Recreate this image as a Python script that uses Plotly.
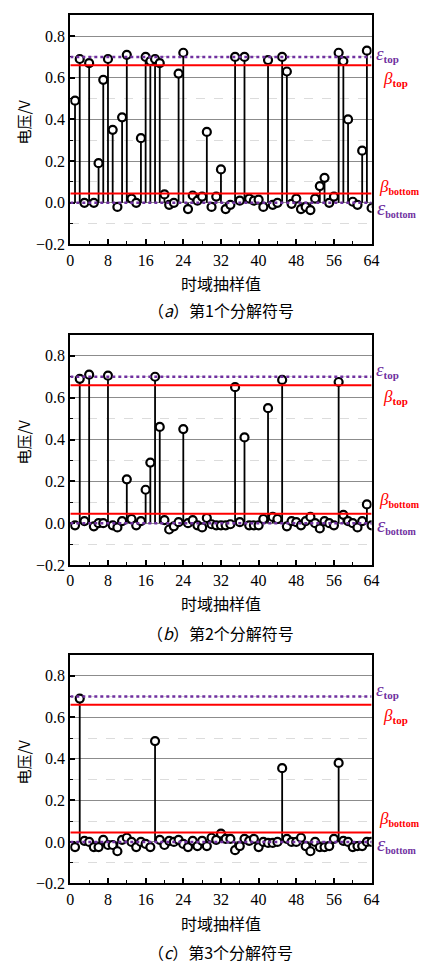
import plotly.graph_objects as go

# ---------------- data ----------------
samples = list(range(1, 65))

volt_a = [0.49, 0.69, 0.0, 0.67, 0.0, 0.19, 0.59, 0.69, 0.35, -0.02,
          0.41, 0.71, 0.02, 0.0, 0.31, 0.70, 0.68, 0.69, 0.67, 0.04,
          -0.01, 0.0, 0.62, 0.72, -0.03, 0.035, 0.01, 0.03, 0.34, -0.02,
          0.03, 0.16, -0.03, -0.01, 0.70, 0.01, 0.70, 0.02, 0.01, 0.015,
          -0.02, 0.685, -0.01, 0.0, 0.70, 0.63, -0.005, 0.02, -0.03, -0.02,
          -0.035, 0.02, 0.08, 0.12, 0.0, 0.03, 0.72, 0.68, 0.40, 0.005,
          -0.01, 0.25, 0.73, -0.025]

volt_b = [-0.01, 0.69, 0.01, 0.71, -0.015, 0.0, 0.0, 0.705, -0.01, -0.02,
          0.01, 0.21, 0.02, -0.01, 0.01, 0.16, 0.29, 0.70, 0.46, 0.015,
          -0.03, -0.015, 0.005, 0.45, 0.0, 0.015, -0.01, -0.02, 0.025, -0.005,
          -0.01, -0.01, -0.01, -0.005, 0.65, 0.005, 0.41, -0.01, -0.01, -0.01,
          0.02, 0.55, 0.03, 0.02, 0.685, -0.015, 0.01, 0.005, -0.01, 0.01,
          0.03, 0.0, -0.025, 0.01, 0.0, -0.01, 0.675, 0.04, 0.01, 0.0,
          -0.02, 0.01, 0.09, -0.01]

volt_c = [-0.025, 0.69, 0.005, 0.0, -0.025, -0.025, 0.01, -0.015, -0.015, -0.045,
          0.01, 0.02, 0.0, -0.025, 0.0, -0.01, -0.025, 0.485, 0.01, -0.015,
          0.005, 0.0, 0.01, -0.01, -0.025, 0.005, -0.02, 0.005, -0.02, 0.02,
          0.01, 0.04, 0.015, 0.015, -0.04, -0.02, 0.015, 0.005, 0.015, -0.025,
          0.0, -0.005, -0.005, 0.0, 0.355, 0.015, 0.0, 0.0, 0.02, -0.02,
          -0.045, 0.0, -0.025, -0.025, -0.02, 0.015, 0.38, 0.005, 0.0, -0.025,
          -0.02, -0.02, 0.0, 0.0]

eps_top = 0.70
beta_top = 0.66
beta_bottom = 0.045
eps_bottom = 0.0

x_ticks = [0, 8, 16, 24, 32, 40, 48, 56, 64]
y_ticks = [-0.2, 0.0, 0.2, 0.4, 0.6, 0.8]
x_title = "时域抽样值"
y_title = "电压/V"
captions = ["（<i>a</i>）第1个分解符号", "（<i>b</i>）第2个分解符号", "（<i>c</i>）第3个分解符号"]

# ---------------- layout constants ----------------
W, H = 427, 964
PURPLE = "#7030A0"
RED = "#FF0000"
SERIF = "Liberation Serif, Times New Roman"
CJK = "Noto Sans CJK SC"

def py(px):
    return 1 - px / H

def sym_label(glyph, sub, gsize, ssize):
    return (f"<span style='font-size:{gsize}px'><i>{glyph}</i></span>"
            f"<sub><span style='font-size:{ssize}px'><b>{sub}</b></span></sub>")

x_dom = [60 / W, 370 / W]
panels = [
    dict(data=volt_a, top=7.3, bot=238.7, xt=278, cap=305, yt=115,
         lab=dict(et=0.715, bt=0.595, bb=0.075, eb=-0.025)),
    dict(data=volt_b, top=330, bot=562.3, xt=601, cap=631, yt=438,
         lab=dict(et=0.73, bt=0.605, bb=0.11, eb=-0.01)),
    dict(data=volt_c, top=653, bot=883.7, xt=924, cap=953, yt=761,
         lab=dict(et=0.73, bt=0.605, bb=0.11, eb=-0.01)),
]

fig = go.Figure()
annotations = []
shapes = []

for i, p in enumerate(panels):
    k = "" if i == 0 else str(i + 1)
    xa, ya = "x" + k, "y" + k
    vals = p["data"]
    # stems
    sx, sy = [], []
    for n, v in zip(samples, vals):
        sx += [n, n, None]
        sy += [0, v, None]
    fig.add_trace(go.Scatter(x=sx, y=sy, mode="lines", xaxis=xa, yaxis=ya,
                             line=dict(color="black", width=1.8),
                             showlegend=False, hoverinfo="skip"))
    # markers
    fig.add_trace(go.Scatter(x=samples, y=vals, mode="markers", xaxis=xa, yaxis=ya,
                             marker=dict(symbol="circle", size=8, color="white",
                                         line=dict(color="black", width=2.2)),
                             showlegend=False))
    # threshold lines
    for val, col, dash, w in [(beta_top, RED, "solid", 2), (beta_bottom, RED, "solid", 2),
                              (eps_top, PURPLE, "dot", 2.5), (eps_bottom, PURPLE, "dot", 2.5)]:
        shapes.append(dict(type="line", xref=xa, yref=ya, x0=0, x1=64, y0=val, y1=val,
                           line=dict(color=col, width=w, dash=dash), layer="above"))

    dom = [py(p["bot"]), py(p["top"])]
    fig.layout["xaxis" + k] = dict(
        domain=x_dom, range=[0, 64], anchor=ya, tickvals=x_ticks,
        ticks="inside", ticklen=5, tickwidth=1.5, tickcolor="black",
        minor=dict(dtick=4, tick0=0, ticks="inside", ticklen=3, tickwidth=1.2, tickcolor="black"),
        showline=True, linecolor="black", linewidth=2, mirror=True,
        showgrid=False, zeroline=False,
        tickfont=dict(family=SERIF, size=16, color="black"))
    fig.layout["yaxis" + k] = dict(
        domain=dom, range=[-0.2, 0.9], anchor=xa, tickvals=y_ticks, tickformat=".1f",
        ticks="inside", ticklen=5, tickwidth=1.5, tickcolor="black",
        minor=dict(dtick=0.1, tick0=0, ticks="inside", ticklen=3, tickwidth=1.2,
                   tickcolor="black", showgrid=True, gridcolor="#dcdcdc",
                   gridwidth=1, griddash="dash"),
        showline=True, linecolor="black", linewidth=2, mirror=True,
        showgrid=True, gridcolor="#8c8c8c", gridwidth=1, zeroline=False,
        tickfont=dict(family=SERIF, size=16, color="black"))

    # axis titles / caption
    annotations.append(dict(xref="paper", yref="paper", x=(60 + 370) / 2 / W, y=py(p["xt"]),
                            text=x_title, showarrow=False, xanchor="center", yanchor="middle",
                            font=dict(family=CJK, size=16, color="black")))
    annotations.append(dict(xref="paper", yref="paper", x=(60 + 370) / 2 / W, y=py(p["cap"]),
                            text=captions[i], showarrow=False, xanchor="center", yanchor="middle",
                            font=dict(family=CJK, size=16, color="black")))
    annotations.append(dict(xref="paper", yref="paper", x=12 / W, y=py(p["yt"]),
                            text=y_title, showarrow=False, textangle=-90,
                            xanchor="center", yanchor="middle",
                            font=dict(family=CJK, size=15, color="black")))
    # threshold labels
    lab = p["lab"]
    annotations.append(dict(xref="paper", yref=ya, x=372 / W, y=lab["et"],
                            text=sym_label("ε", "top", 19, 11), showarrow=False,
                            xanchor="left", yanchor="middle",
                            font=dict(family=SERIF, size=14, color=PURPLE)))
    annotations.append(dict(xref="paper", yref=ya, x=380 / W, y=lab["bt"],
                            text=sym_label("β", "top", 17, 11), showarrow=False,
                            xanchor="left", yanchor="middle",
                            font=dict(family=SERIF, size=14, color=RED)))
    annotations.append(dict(xref="paper", yref=ya, x=376 / W, y=lab["bb"],
                            text=sym_label("β", "bottom", 17, 10), showarrow=False,
                            xanchor="left", yanchor="middle",
                            font=dict(family=SERIF, size=14, color=RED)))
    annotations.append(dict(xref="paper", yref=ya, x=373 / W, y=lab["eb"],
                            text=sym_label("ε", "bottom", 21, 10), showarrow=False,
                            xanchor="left", yanchor="middle",
                            font=dict(family=SERIF, size=14, color=PURPLE)))

fig.update_layout(width=W, height=H, margin=dict(l=0, r=0, t=0, b=0),
                  paper_bgcolor="white", plot_bgcolor="white",
                  annotations=annotations, shapes=shapes, showlegend=False)

fig.write_html("out.html")
